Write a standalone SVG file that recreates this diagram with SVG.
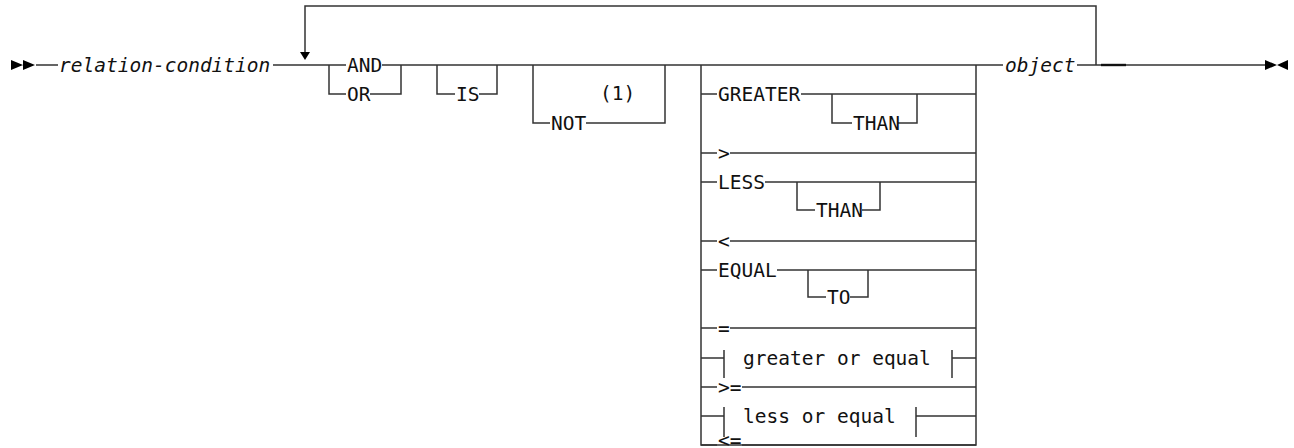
<svg xmlns="http://www.w3.org/2000/svg" width="1294" height="448" viewBox="0 0 1294 448">
<style>
.l{fill:none;stroke:#333;stroke-width:1.5}
.t{font-family:"DejaVu Sans Mono","Liberation Mono",monospace;font-size:19.5px;fill:#111}
.i{font-style:italic}
.a{fill:#000}
</style>
<rect width="1294" height="448" fill="#fff"/>
<g id="connectors">
<path class="l" d="M36 65H58M273 65H346M382 65H1003M1077 65H1265"/>
<path class="l" d="M305 52V6H1096V65"/>
<path d="M1101 65H1126" stroke="#111" stroke-width="2.4"/>
<path class="l" d="M329 65V94H346M370 94H401V65"/>
<path class="l" d="M437 65V94H455M479 94H497V65"/>
<path class="l" d="M533 65V123H550M586 123H665V65"/>
<path class="l" d="M701 65V445H976V65"/>
<path class="l" d="M701 94H717M801 94H976M832 94V123H852M898 123H917V94"/>
<path class="l" d="M701 153H717M730 153H976"/>
<path class="l" d="M701 182H717M765 182H976M797 182V210H815M862 210H880V182"/>
<path class="l" d="M701 241H717M730 241H976"/>
<path class="l" d="M701 270H717M777 270H976M808 270V297H826M850 297H868V270"/>
<path class="l" d="M701 328H717M730 328H976"/>
<path class="l" d="M701 358H724M724 350V378M952 350V378M952 358H976"/>
<path class="l" d="M701 387H717M742 387H976"/>
<path class="l" d="M701 416H724M724 407V437M916 407V437M916 416H976"/>
<path class="l" d="M701 445H717M742 445H976"/>
<path class="a" d="M300 52H310L305 60Z"/>
</g>
<g id="start"><path class="a" d="M11 60L23 65L11 70ZM23 60L35 65L23 70Z"/></g>
<g id="relation-condition"><text class="t i" x="59" y="72">relation-condition</text></g>
<g id="and-or"><text class="t" x="347" y="72">AND</text><text class="t" x="347" y="101">OR</text></g>
<g id="is"><text class="t" x="456" y="101">IS</text></g>
<g id="not"><text class="t" x="551" y="130">NOT</text><text class="t" x="600" y="100">(1)</text></g>
<g id="greater"><text class="t" x="718" y="101">GREATER</text><text class="t" x="853" y="130">THAN</text></g>
<g id="gt"><text class="t" x="718" y="160">&gt;</text></g>
<g id="less"><text class="t" x="718" y="189">LESS</text><text class="t" x="816" y="217">THAN</text></g>
<g id="lt"><text class="t" x="718" y="248">&lt;</text></g>
<g id="equal"><text class="t" x="718" y="277">EQUAL</text><text class="t" x="827" y="304">TO</text></g>
<g id="eq"><text class="t" x="718" y="335">=</text></g>
<g id="greater-or-equal"><text class="t" x="743" y="365">greater or equal</text></g>
<g id="ge"><text class="t" x="718" y="394">&gt;=</text></g>
<g id="less-or-equal"><text class="t" x="743" y="423">less or equal</text></g>
<g id="le"><text class="t" x="718" y="447">&lt;=</text></g>
<g id="object"><text class="t i" x="1005" y="72">object</text></g>
<g id="end"><path class="a" d="M1265 60L1277 65L1265 70ZM1288 60L1277 65L1288 70Z"/></g>
</svg>
